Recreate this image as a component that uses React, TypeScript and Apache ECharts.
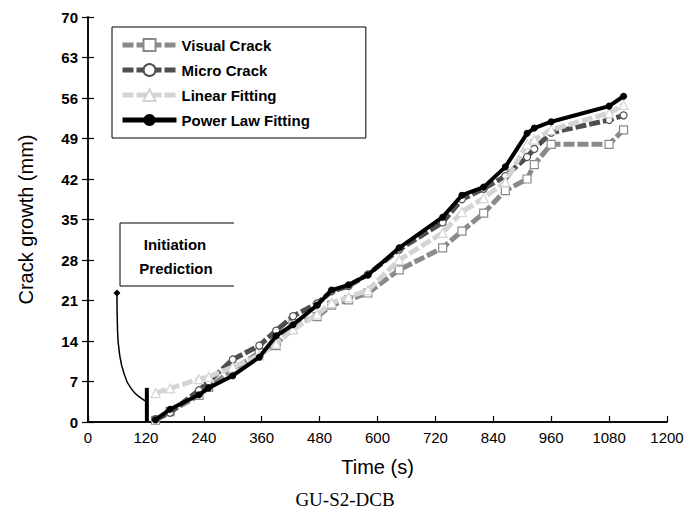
import React, { useEffect, useRef } from "react";
import * as echarts from "echarts";

const times = [140, 170, 230, 250, 300, 355, 390, 425, 475, 505, 540, 580, 645, 735, 775, 820, 865, 910, 925, 960, 1080, 1110];
const visualCrack = [0.3, 1.8, 4.6, 6.0, 9.0, 12.0, 13.2, 17.0, 18.2, 20.2, 21.1, 22.3, 26.3, 30.1, 33.0, 36.1, 40.0, 42.0, 44.5, 48.0, 48.0, 50.5];
const microCrack = [0.5, 1.6, 5.5, 7.0, 10.8, 13.2, 15.8, 18.3, 20.5, 22.6, 23.5, 25.5, 29.8, 34.5, 38.5, 40.3, 42.5, 45.8, 47.2, 50.0, 52.2, 53.0];
const linearFitting = [5.0, 5.8, 7.4, 7.8, 9.5, 11.5, 13.5, 16.0, 18.6, 20.6, 21.6, 22.8, 28.0, 32.7, 36.3, 38.7, 41.5, 48.0, 48.8, 50.5, 53.4, 54.8];
const powerLaw = [0.4, 2.2, 4.7, 5.9, 8.0, 11.2, 14.9, 16.8, 20.2, 22.8, 23.7, 25.4, 30.1, 35.4, 39.2, 40.6, 44.1, 49.9, 50.8, 51.9, 54.6, 56.3];

const initiationCurveT = [60, 61, 65, 75, 92, 112, 122];
const initiationCurveV = [22.3, 16.5, 12.0, 8.3, 5.5, 4.0, 3.6];
const initiationBarT = [122, 122];
const initiationBarV = [0, 5.9];

const xTicks = { min: 0, max: 1200, interval: 120 };
const yTicks = { min: 0, max: 70, interval: 7 };

const pairs = (xs: number[], ys: number[]) => xs.map((x, i) => [x, ys[i]]);

export default function App() {
  const ref = useRef<HTMLDivElement>(null);
  useEffect(() => {
    if (!ref.current) return;
    const chart = echarts.init(ref.current, undefined, { renderer: "svg" });
    const dash = [11, 3];
    chart.setOption({
      animation: false,
      backgroundColor: "#ffffff",
      grid: { left: 88, right: 23, top: 17, bottom: 105, containLabel: false },
      legend: {
        orient: "vertical",
        left: 112,
        top: 27,
        padding: [10, 56, 10, 8],
        itemGap: 9,
        itemWidth: 54,
        itemHeight: 15,
        borderColor: "#000",
        borderWidth: 1,
        backgroundColor: "#fff",
        lineStyle: { width: 5 },
        textStyle: { fontFamily: "Liberation Sans, Arial", fontWeight: "bold", fontSize: 15, color: "#000", lineHeight: 16 },
        data: ["Visual Crack", "Micro Crack", "Linear Fitting", "Power Law Fitting"],
      },
      xAxis: [
        {
          type: "value",
          min: xTicks.min,
          max: xTicks.max,
          interval: xTicks.interval,
          name: "Time (s)",
          nameLocation: "middle",
          nameGap: 35,
          nameTextStyle: { fontFamily: "Liberation Sans, Arial", fontSize: 20, color: "#000" },
          axisLine: { show: true, lineStyle: { color: "#000", width: 1.5 } },
          axisTick: { show: true, inside: true, length: 6, lineStyle: { color: "#000", width: 1.2 } },
          axisLabel: { fontFamily: "Liberation Sans, Arial", fontSize: 15, color: "#000", margin: 8, formatter: (v: number) => String(v) },
          splitLine: { show: false },
        },
        {
          type: "value",
          position: "top",
          min: xTicks.min,
          max: xTicks.max,
          interval: xTicks.interval,
          axisLine: { show: true, lineStyle: { color: "#000", width: 1.5 } },
          axisTick: { show: false },
          axisLabel: { show: false },
          splitLine: { show: false },
        },
      ],
      yAxis: [
        {
          type: "value",
          min: yTicks.min,
          max: yTicks.max,
          interval: yTicks.interval,
          name: "Crack growth (mm)",
          nameLocation: "middle",
          nameGap: 52,
          nameTextStyle: { fontFamily: "Liberation Sans, Arial", fontSize: 20, color: "#000" },
          axisLine: { show: true, lineStyle: { color: "#000", width: 1.5 } },
          axisTick: { show: true, inside: true, length: 6, lineStyle: { color: "#000", width: 1.2 } },
          axisLabel: { fontFamily: "Liberation Sans, Arial", fontWeight: "bold", fontSize: 15, color: "#000", margin: 10 },
          splitLine: { show: false },
        },
        {
          type: "value",
          position: "right",
          min: yTicks.min,
          max: yTicks.max,
          interval: yTicks.interval,
          axisLine: { show: true, lineStyle: { color: "#000", width: 1.5 } },
          axisTick: { show: true, inside: true, length: 6, lineStyle: { color: "#000", width: 1.2 } },
          axisLabel: { show: false },
          splitLine: { show: false },
        },
      ],
      series: [
        {
          name: "Visual Crack",
          type: "line",
          data: pairs(times, visualCrack),
          symbol: "rect",
          symbolSize: 8,
          lineStyle: { color: "#8a8a8a", width: 5, type: dash },
          itemStyle: { color: "#ffffff", borderColor: "#8a8a8a", borderWidth: 1.2 },
          z: 2,
        },
        {
          name: "Micro Crack",
          type: "line",
          data: pairs(times, microCrack),
          symbol: "circle",
          symbolSize: 7,
          lineStyle: { color: "#4f4f4f", width: 5, type: dash },
          itemStyle: { color: "#ffffff", borderColor: "#4f4f4f", borderWidth: 1.2 },
          z: 3,
        },
        {
          name: "Linear Fitting",
          type: "line",
          data: pairs(times, linearFitting),
          symbol: "triangle",
          symbolSize: 9,
          lineStyle: { color: "#d4d4d4", width: 5, type: dash },
          itemStyle: { color: "#ffffff", borderColor: "#d4d4d4", borderWidth: 1.2 },
          z: 4,
        },
        {
          name: "Power Law Fitting",
          type: "line",
          data: pairs(times, powerLaw),
          symbol: "circle",
          symbolSize: 7,
          lineStyle: { color: "#000000", width: 4 },
          itemStyle: { color: "#000000" },
          z: 5,
        },
        {
          name: "initiation-curve",
          type: "line",
          data: pairs(initiationCurveT, initiationCurveV),
          smooth: 0.5,
          showSymbol: true,
          symbol: (_v: any, p: any) => (p.dataIndex === 0 ? "diamond" : "none"),
          symbolSize: 7,
          lineStyle: { color: "#000", width: 1.5 },
          itemStyle: { color: "#000" },
          z: 6,
          silent: true,
        },
        {
          name: "initiation-bar",
          type: "line",
          data: pairs(initiationBarT, initiationBarV),
          symbol: "none",
          lineStyle: { color: "#000", width: 4 },
          z: 6,
          silent: true,
        },
      ],
      graphic: [
        {
          type: "polyline",
          shape: { points: [[234, 223], [120, 223], [120, 286], [234, 286]] },
          style: { stroke: "#000", lineWidth: 1, fill: "none" },
          z: 10,
        },
        {
          type: "text",
          x: 175,
          y: 244,
          style: { text: "Initiation", fontFamily: "Liberation Sans, Arial", fontWeight: "bold", fontSize: 15, fill: "#000", align: "center", verticalAlign: "middle" },
          z: 10,
        },
        {
          type: "text",
          x: 176,
          y: 268,
          style: { text: "Prediction", fontFamily: "Liberation Sans, Arial", fontWeight: "bold", fontSize: 15, fill: "#000", align: "center", verticalAlign: "middle" },
          z: 10,
        },
        {
          type: "text",
          x: 345,
          y: 499,
          style: { text: "GU-S2-DCB", fontFamily: "Liberation Serif, Times New Roman", fontSize: 19, fill: "#000", align: "center", verticalAlign: "middle" },
          z: 10,
        },
      ],
    });
    return () => chart.dispose();
  }, []);
  return <div ref={ref} style={{ width: 690, height: 527, position: "absolute", left: 0, top: 0 }} />;
}
